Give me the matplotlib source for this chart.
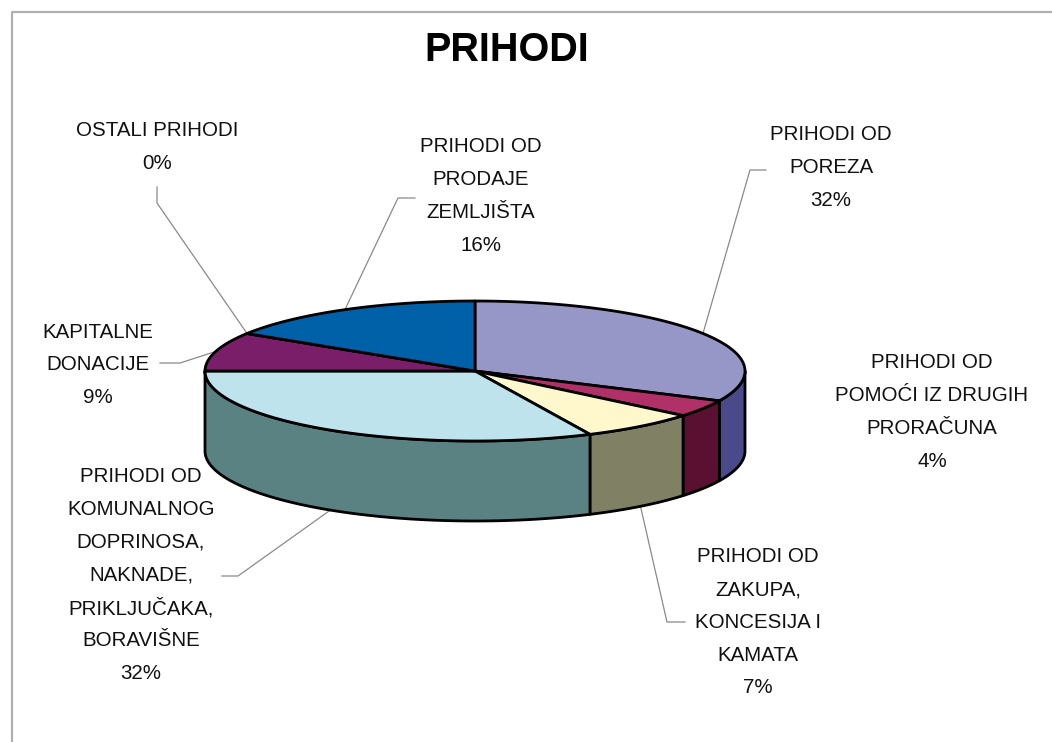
import numpy as np
import matplotlib
matplotlib.use("Agg")
import matplotlib.pyplot as plt
from matplotlib.patches import Polygon

plt.rcParams["font.family"] = ["Liberation Sans", "DejaVu Sans"]

# slices, clockwise from 12 o'clock
categories = [
    "PRIHODI OD\nPOREZA",
    "PRIHODI OD\nPOMOĆI IZ DRUGIH\nPRORAČUNA",
    "PRIHODI OD\nZAKUPA,\nKONCESIJA I\nKAMATA",
    "PRIHODI OD\nKOMUNALNOG\nDOPRINOSA,\nNAKNADE,\nPRIKLJUČAKA,\nBORAVIŠNE",
    "KAPITALNE\nDONACIJE",
    "OSTALI PRIHODI",
    "PRIHODI OD\nPRODAJE\nZEMLJIŠTA",
]
shares = [32, 4, 7, 32, 9, 0, 16]

top_colors = ["#9797c7", "#b03068", "#fff8cc", "#bee3ec", "#7a1e6a", "#111111", "#0060a8"]
side_colors = ["#4a4a8a", "#5a1030", "#808064", "#5a8282", "#4a1040", "#111111", "#003a68"]

# label layout (pixels): centre x, first line y, leader start, leader elbow
label_pos = [(831, 135), (932, 363), (758, 557), (141, 477), (98, 332), (157, 131), (481, 147)]
leaders = [
    ((766, 170), (750, 170)),
    None,
    ((685, 622), (667, 622)),
    ((222, 576), (238, 576)),
    ((160, 363), (180, 363)),
    ((157, 187), (157, 203)),
    ((415, 198), (398, 198)),
]

W, H = 1052, 742
fig = plt.figure(figsize=(W / 100, H / 100), dpi=100)
ax = fig.add_axes([0, 0, 1, 1])
ax.set_xlim(0, W)
ax.set_ylim(H, 0)
ax.axis("off")

# chart border
ax.plot([12, 12, W], [H, 12, 12], color="#b0b0b0", lw=1.6, solid_capstyle="butt")

ax.text(507, 50, "PRIHODI", ha="center", va="center", fontsize=28.5, fontweight="bold", color="#000000")

cx, cy, a, b, depth = 475, 371, 270, 70, 80


def pt(t, dz=0.0):
    t = np.radians(t)
    return cx + a * np.sin(t), cy - b * np.cos(t) + dz


bounds = np.concatenate([[0], np.cumsum(shares)]) / 100 * 360

# side walls (front half only)
for i in range(len(shares)):
    t0, t1 = max(bounds[i], 90), min(bounds[i + 1], 270)
    if t1 <= t0:
        continue
    ts = np.linspace(t0, t1, 80)
    xs, ys = pt(ts)
    xb, yb = pt(ts[::-1], depth)
    poly = np.column_stack([np.concatenate([xs, xb]), np.concatenate([ys, yb])])
    ax.add_patch(Polygon(poly, closed=True, facecolor=side_colors[i], edgecolor="black", lw=2.0,
                         joinstyle="round", zorder=2))

# top faces
for i in range(len(shares)):
    ts = np.linspace(bounds[i], bounds[i + 1], max(2, int(shares[i] * 4)))
    xs, ys = pt(ts)
    poly = np.column_stack([np.concatenate([[cx], xs]), np.concatenate([[cy], ys])])
    ax.add_patch(Polygon(poly, closed=True, facecolor=top_colors[i], edgecolor="black", lw=2.0,
                         joinstyle="round", zorder=3))

# labels and leader lines
step = 32.7
for i, cat in enumerate(categories):
    lines = cat.split("\n") + ["{}%".format(shares[i])]
    lx, ly = label_pos[i]
    for k, line in enumerate(lines):
        ax.text(lx, ly + k * step, line, ha="center", va="center", fontsize=14.8, color="#111111", zorder=5)
    if leaders[i] is None:
        continue
    mid = (bounds[i] + bounds[i + 1]) / 2
    front = np.cos(np.radians(mid)) < 0
    ax_, ay_ = pt(mid, depth if front else 0)
    (sx, sy), (ex, ey) = leaders[i]
    ax.plot([sx, ex, ax_], [sy, ey, ay_], color="#8a8a8a", lw=0.9, zorder=1)

fig.savefig("out.png", dpi=100)
